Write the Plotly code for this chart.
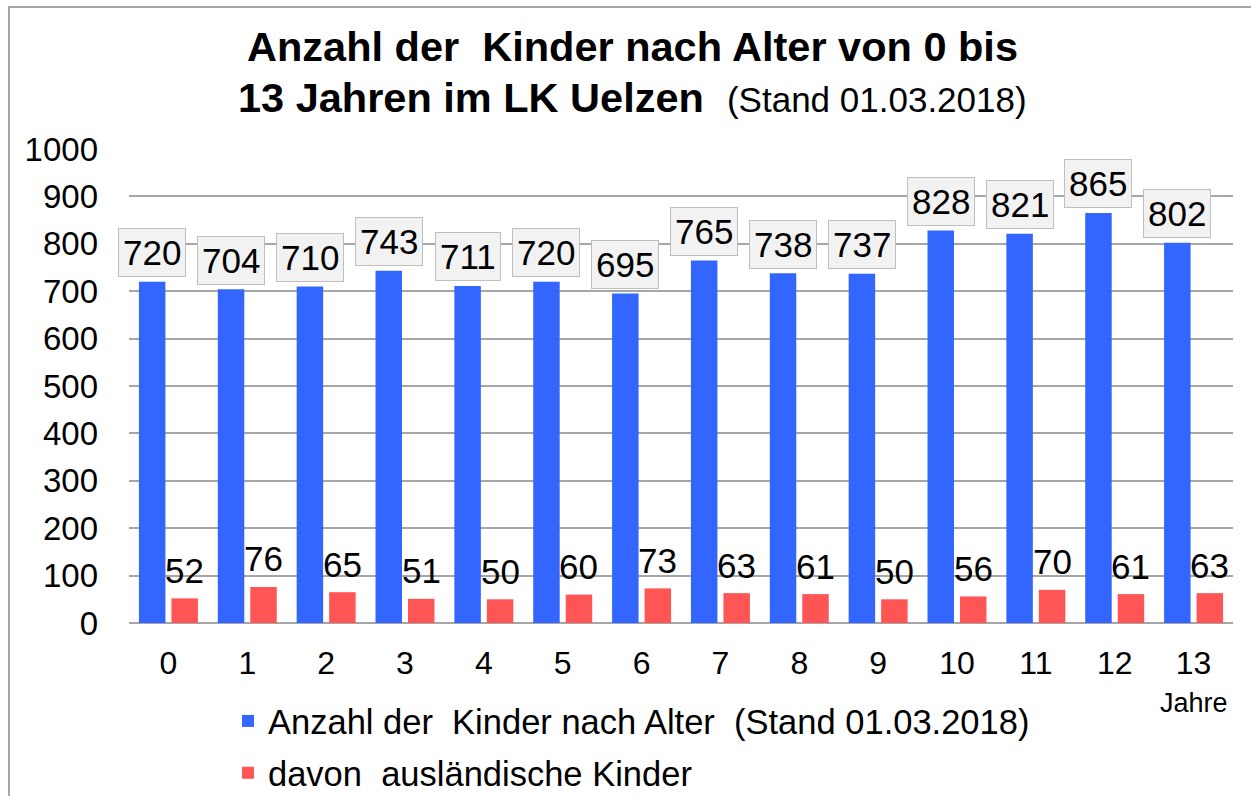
import plotly.graph_objects as go

ages = ["0", "1", "2", "3", "4", "5", "6", "7", "8", "9", "10", "11", "12", "13"]
kinder = [720, 704, 710, 743, 711, 720, 695, 765, 738, 737, 828, 821, 865, 802]
auslaendisch = [52, 76, 65, 51, 50, 60, 73, 63, 61, 50, 56, 70, 61, 63]

name_total = "Anzahl der\u00a0 Kinder nach Alter\u00a0 (Stand 01.03.2018)"
name_foreign = "davon\u00a0 ausländische Kinder"
title_line1 = "Anzahl der\u00a0 Kinder nach Alter von 0 bis"
title_line2 = "13 Jahren im LK Uelzen"
title_stand = "(Stand 01.03.2018)"

BLUE = "#3366FF"
RED = "#FF5555"
FONT = "Liberation Sans, Arial, sans-serif"
NARROW = "Liberation Sans Narrow, Arial Narrow, Liberation Sans, Arial, sans-serif"

W, H = 1251, 796
L, R, T, B = 129, 18, 149, 173

fig = go.Figure()
fig.add_trace(go.Bar(x=ages, y=kinder, name=name_total, legendgroup="a",
                     marker=dict(color=BLUE, line=dict(width=0))))
fig.add_trace(go.Bar(x=ages, y=auslaendisch, name=name_foreign, legendgroup="b",
                     marker=dict(color=RED, line=dict(width=0))))

cat_w = (W - L - R) / len(ages)
bargap = 0.176
slot = cat_w * (1 - bargap) / 2
off = slot / 2

annotations = []
for a, v in zip(ages, kinder):
    annotations.append(dict(x=a, y=v, xref="x", yref="y", text=str(v), showarrow=False,
                            xshift=-off, yshift=29, yanchor="middle",
                            font=dict(family=FONT, size=35, color="black"),
                            bgcolor="#F2F2F2", bordercolor="#BFBFBF", borderwidth=1, borderpad=4))
for a, v in zip(ages, auslaendisch):
    annotations.append(dict(x=a, y=v, xref="x", yref="y", text=str(v), showarrow=False,
                            xshift=off, yshift=28, yanchor="middle",
                            font=dict(family=FONT, size=35, color="black")))
annotations.append(dict(x=ages[-1], y=0, xref="x", yref="y", text="Jahre", showarrow=False,
                        yshift=-80, yanchor="middle", font=dict(family=FONT, size=27, color="black")))

# title lines
annotations.append(dict(xref="paper", yref="paper", x=(632 - L) / (W - L - R),
                        y=(H - B - 47) / (H - T - B), xanchor="center", yanchor="middle",
                        text="<b>" + title_line1 + "</b>", showarrow=False,
                        font=dict(family=NARROW, size=41.5, color="black")))
annotations.append(dict(xref="paper", yref="paper", x=(632 - L) / (W - L - R),
                        y=(H - B - 97) / (H - T - B), xanchor="center", yanchor="middle",
                        text="<b>" + title_line2 + "</b>\u00a0 <span style='font-size:35px'>" + title_stand + "</span>",
                        showarrow=False,
                        font=dict(family=NARROW, size=41.5, color="black")))

fig.update_layout(
    width=W, height=H,
    margin=dict(l=L, r=R, t=T, b=B, autoexpand=False),
    paper_bgcolor="white", plot_bgcolor="white",
    barmode="group", bargap=bargap, bargroupgap=0.185,
    font=dict(family=FONT, size=32, color="black"),
    xaxis=dict(type="category", range=[-0.5, len(ages) - 0.5], showgrid=False, showline=False, ticks="",
               tickfont=dict(size=32), ticklabelstandoff=18),
    yaxis=dict(range=[0, 1000], dtick=100, showgrid=True, gridcolor="#A6A6A6", gridwidth=1.5,
               zeroline=True, zerolinecolor="#A6A6A6", zerolinewidth=1.5, showline=False,
               ticks="", tickfont=dict(size=33), ticklabelstandoff=30),
    legend=dict(orientation="v", xref="container", yref="container", x=228 / W, xanchor="left",
                y=1 - 692 / H, yanchor="top", font=dict(size=34.5), bgcolor="rgba(0,0,0,0)",
                traceorder="grouped", tracegroupgap=4),
    showlegend=True,
    annotations=annotations,
    shapes=[dict(type="rect", xref="paper", yref="paper",
                 x0=(9 - L) / (W - L - R), x1=1.3, y0=-1, y1=(H - B - 7) / (H - T - B),
                 line=dict(color="#A6A6A6", width=2), fillcolor="rgba(0,0,0,0)", layer="below")],
)

fig.write_html("out.html", config={"displayModeBar": False},
               post_script="document.body.style.margin='0';document.body.style.overflow='hidden';")
